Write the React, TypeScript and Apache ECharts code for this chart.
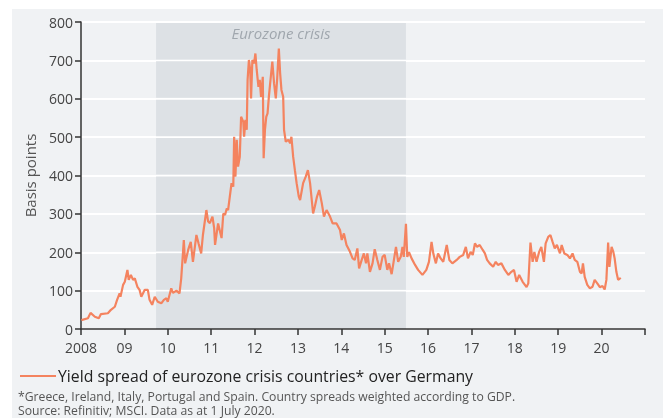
import React, { useEffect, useRef } from "react";
import * as echarts from "echarts";

// Decimal years of the readings
const years: number[] = [
  2008.01, 2008.16, 2008.22, 2008.32, 2008.41, 2008.46, 2008.62, 2008.69, 2008.78, 2008.83,
  2008.89, 2008.91, 2008.97, 2009.01, 2009.07, 2009.10, 2009.15, 2009.20, 2009.24, 2009.30,
  2009.35, 2009.39, 2009.47, 2009.54, 2009.58, 2009.64, 2009.70, 2009.77, 2009.85, 2009.91,
  2009.97, 2010.00, 2010.08, 2010.12, 2010.20, 2010.27, 2010.31, 2010.35, 2010.37, 2010.40,
  2010.47, 2010.53, 2010.58, 2010.66, 2010.71, 2010.77, 2010.81, 2010.89, 2010.93, 2010.97,
  2011.03, 2011.07, 2011.09, 2011.16, 2011.24, 2011.28, 2011.32, 2011.36, 2011.39, 2011.43,
  2011.47, 2011.51, 2011.53, 2011.56, 2011.59, 2011.62, 2011.66, 2011.69, 2011.74, 2011.76,
  2011.79, 2011.82, 2011.84, 2011.87, 2011.90, 2011.92, 2011.95, 2011.99, 2012.02, 2012.05,
  2012.09, 2012.12, 2012.15, 2012.19, 2012.21, 2012.24, 2012.27, 2012.30, 2012.33, 2012.36,
  2012.41, 2012.45, 2012.49, 2012.52, 2012.56, 2012.59, 2012.62, 2012.66, 2012.68, 2012.72,
  2012.78, 2012.82, 2012.85, 2012.89, 2012.93, 2012.97, 2013.02, 2013.05, 2013.12, 2013.18,
  2013.23, 2013.28, 2013.35, 2013.39, 2013.44, 2013.49, 2013.55, 2013.60, 2013.66, 2013.74,
  2013.80, 2013.89, 2013.97, 2014.01, 2014.06, 2014.12, 2014.20, 2014.26, 2014.31, 2014.37,
  2014.41, 2014.47, 2014.52, 2014.57, 2014.60, 2014.66, 2014.72, 2014.77, 2014.83, 2014.89,
  2014.95, 2015.00, 2015.06, 2015.10, 2015.16, 2015.20, 2015.26, 2015.31, 2015.37, 2015.41,
  2015.44, 2015.49, 2015.52, 2015.56, 2015.62, 2015.70, 2015.77, 2015.87, 2015.96, 2016.02,
  2016.08, 2016.12, 2016.18, 2016.23, 2016.29, 2016.35, 2016.43, 2016.49, 2016.56, 2016.66,
  2016.73, 2016.81, 2016.87, 2016.92, 2016.98, 2017.03, 2017.08, 2017.13, 2017.19, 2017.26,
  2017.31, 2017.36, 2017.42, 2017.50, 2017.56, 2017.61, 2017.69, 2017.77, 2017.85, 2017.92,
  2017.98, 2018.04, 2018.10, 2018.18, 2018.27, 2018.31, 2018.36, 2018.41, 2018.45, 2018.50,
  2018.56, 2018.61, 2018.67, 2018.71, 2018.77, 2018.82, 2018.87, 2018.92, 2018.97, 2019.04,
  2019.08, 2019.14, 2019.21, 2019.27, 2019.33, 2019.38, 2019.44, 2019.50, 2019.54, 2019.57,
  2019.61, 2019.67, 2019.73, 2019.79, 2019.84, 2019.90, 2019.96, 2020.02, 2020.07, 2020.11,
  2020.15, 2020.18, 2020.23, 2020.27, 2020.30, 2020.34, 2020.38, 2020.42, 2020.44,
];

// Yield spread in basis points
const spreads: number[] = [
  23, 28, 42, 32, 28, 39, 41, 50, 58, 75,
  93, 84, 115, 123, 154, 128, 141, 128, 132, 110,
  102, 84, 102, 102, 76, 63, 84, 71, 67, 76,
  80, 71, 106, 94, 100, 93, 132, 198, 232, 171,
  206, 227, 175, 245, 223, 197, 245, 310, 280, 276,
  293, 262, 219, 275, 237, 301, 297, 314, 310, 345,
  380, 371, 501, 397, 493, 423, 449, 553, 540, 501,
  545, 519, 649, 701, 675, 601, 701, 692, 718, 675,
  631, 649, 605, 657, 445, 519, 553, 562, 605, 640,
  697, 640, 601, 649, 731, 666, 623, 605, 519, 488,
  493, 484, 501, 449, 414, 380, 345, 336, 380, 397,
  414, 380, 301, 319, 345, 362, 328, 293, 310, 293,
  275, 275, 258, 232, 249, 219, 201, 184, 180, 210,
  158, 180, 197, 171, 197, 149, 171, 208, 180, 154,
  188, 193, 154, 171, 143, 171, 214, 175, 188, 214,
  188, 274, 188, 200, 184, 167, 154, 141, 154, 175,
  227, 197, 171, 197, 184, 175, 219, 180, 171, 180,
  188, 193, 214, 184, 201, 193, 223, 214, 219, 206,
  197, 180, 171, 162, 175, 167, 171, 154, 141, 149,
  154, 123, 141, 123, 109, 119, 225, 175, 201, 175,
  201, 214, 175, 223, 240, 245, 227, 210, 219, 197,
  219, 197, 193, 184, 197, 180, 175, 149, 145, 171,
  136, 115, 106, 110, 128, 119, 109, 112, 103, 128,
  225, 162, 214, 201, 184, 149, 128, 132, 130,
];

const crisisStart = 2009.73;
const crisisEnd = 2015.49;
const yTicks = { min: 0, max: 800, step: 100 };
const bandStarts: number[] = [0, 100, 200, 300, 400, 500, 600, 700];
const gridHalfWidth = 2.6; // half of a 2px gridline, in basis points
const xRange = { min: 2008, max: 2021, step: 1 };

const seriesName = "Yield spread of eurozone crisis countries* over Germany";
const crisisLabel = "Eurozone crisis";
const footnote1 = "*Greece, Ireland, Italy, Portugal and Spain. Country spreads weighted according to GDP.";
const footnote2 = "Source: Refinitiv; MSCI. Data as at 1 July 2020.";

const FONT = "'Open Sans', 'Noto Sans', sans-serif";
const LINE_COLOR = "#f4835f";

export default function App() {
  const ref = useRef<HTMLDivElement>(null);
  useEffect(() => {
    if (!ref.current) return;
    const chart = echarts.init(ref.current, undefined, { renderer: "svg" });
    const data = years.map((y, i) => [y, spreads[i]]);
    // crisis shading split into bands so the white gridlines stay visible
    const bands = bandStarts.map((v) => {
      const top = v + yTicks.step;
      return [
        {
          name: top === yTicks.max ? crisisLabel : "",
          xAxis: crisisStart,
          yAxis: top - gridHalfWidth,
        },
        { xAxis: crisisEnd, yAxis: v === yTicks.min ? v : v + gridHalfWidth },
      ];
    });
    chart.setOption({
      animation: false,
      textStyle: { fontFamily: FONT },
      grid: { left: 81, right: 22, top: 22, bottom: 89, containLabel: false },
      graphic: [
        {
          type: "rect",
          z: -10,
          silent: true,
          shape: { x: 12, y: 9, width: 651, height: 409 },
          style: { fill: "#f0f2f4" },
        },
        {
          type: "text",
          left: 18,
          top: 389,
          style: {
            text: footnote1 + "\n" + footnote2,
            fill: "#555",
            fontSize: 12.2,
            fontFamily: FONT,
            lineHeight: 14,
          },
        },
      ],
      legend: {
        left: 20,
        top: 368,
        data: [seriesName],
        icon: "rect",
        itemWidth: 36,
        itemHeight: 2,
        itemGap: 4,
        padding: 0,
        textStyle: { fontSize: 15.8, lineHeight: 16, color: "#222", fontFamily: FONT, padding: [0, 0, 0, -3] },
      },
      xAxis: {
        type: "value",
        min: xRange.min,
        max: xRange.max,
        interval: xRange.step,
        axisLine: { show: true, lineStyle: { color: "#333", width: 1.5 } },
        axisTick: { show: true, length: 6, lineStyle: { color: "#333", width: 1.5 } },
        splitLine: { show: false },
        axisLabel: {
          color: "#444",
          fontSize: 14,
          lineHeight: 14,
          margin: 11,
          fontFamily: FONT,
          formatter: (v: number) => (v === 2008 ? "2008" : v === 2021 ? "" : String(v).slice(2)),
        },
        z: 20,
      },
      yAxis: {
        type: "value",
        min: yTicks.min,
        max: yTicks.max,
        interval: yTicks.step,
        name: "Basis points",
        nameLocation: "middle",
        nameGap: 44,
        nameTextStyle: { fontSize: 15, color: "#555", fontFamily: FONT },
        axisLine: { show: true, lineStyle: { color: "#333", width: 1.5 } },
        axisTick: { show: true, length: 6, lineStyle: { color: "#333", width: 1.5 } },
        splitLine: { show: true, lineStyle: { color: "#ffffff", width: 2 } },
        axisLabel: { color: "#444", fontSize: 14, lineHeight: 14, margin: 8, fontFamily: FONT },
        z: 0,
      },
      series: [
        {
          type: "line",
          name: "crisis",
          data: [],
          z: 1,
          silent: true,
          showSymbol: false,
          markArea: {
            silent: true,
            itemStyle: { color: "#dde1e5" },
            label: {
              show: true,
              position: "insideTop",
              distance: 3,
              formatter: "{b}",
              fontStyle: "italic",
              fontSize: 15,
              color: "#a0a7ae",
              fontFamily: FONT,
            },
            data: bands,
          },
        },
        {
          type: "line",
          name: seriesName,
          data,
          showSymbol: false,
          symbol: "none",
          lineStyle: { color: LINE_COLOR, width: 2.2 },
          itemStyle: { color: LINE_COLOR },
          z: 10,
        },
      ],
    });
    return () => chart.dispose();
  }, []);
  return (
    <div
      ref={ref}
      style={{ position: "fixed", left: 0, top: 0, width: 667, height: 418 }}
    />
  );
}
